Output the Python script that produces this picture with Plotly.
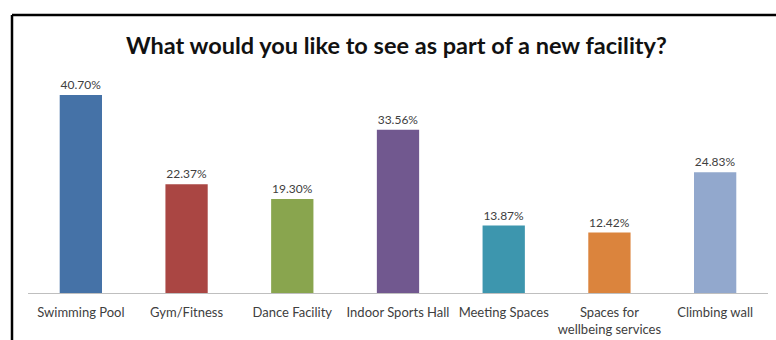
import plotly.graph_objects as go

categories = ["Swimming Pool", "Gym/Fitness", "Dance Facility", "Indoor Sports Hall",
              "Meeting Spaces", "Spaces for<br>wellbeing services", "Climbing wall"]
values = [40.70, 22.37, 19.30, 33.56, 13.87, 12.42, 24.83]
labels = ["40.70%", "22.37%", "19.30%", "33.56%", "13.87%", "12.42%", "24.83%"]
colors = ["#4572A7", "#AA4643", "#89A54E", "#71588F", "#3D96AE", "#DB843D", "#92A8CD"]

W, H = 776, 340
L, R, T, B = 28, 8, 74, 47
pw, ph = W - L - R, H - T - B

def px_x(x):
    return (x - L) / pw

def px_y(y):
    return (H - B - y) / ph

fig = go.Figure(go.Bar(
    x=categories, y=values, text=labels, textposition="outside",
    marker=dict(color=colors, line=dict(width=0)),
    textfont=dict(family="Lato, Carlito, sans-serif", size=12, color="#404040"),
    cliponaxis=False, width=0.4,
))

fig.update_layout(
    width=W, height=H, margin=dict(l=L, r=R, t=T, b=B, autoexpand=False),
    paper_bgcolor="white", plot_bgcolor="white", showlegend=False,
    font=dict(family="Lato, Carlito, sans-serif"),
    xaxis=dict(showline=True, linecolor="#BFBFBF", linewidth=1, ticks="",
               tickfont=dict(size=13, color="#404040"), ticklabelstandoff=7,
               showgrid=False, fixedrange=True, automargin=False),
    yaxis=dict(range=[0, 45], visible=False, showgrid=False, fixedrange=True),
    annotations=[dict(text="<b>What would you like to see as part of a new facility?</b>",
                      xref="paper", yref="paper", x=px_x(396), y=px_y(45),
                      xanchor="center", yanchor="middle", showarrow=False,
                      font=dict(size=23.5, color="#111111"))],
    shapes=[
        dict(type="line", xref="paper", yref="paper", x0=px_x(12), x1=px_x(780),
             y0=px_y(15), y1=px_y(15), line=dict(color="black", width=2.5)),
        dict(type="line", xref="paper", yref="paper", x0=px_x(12), x1=px_x(12),
             y0=px_y(15), y1=px_y(345), line=dict(color="black", width=2.5)),
    ],
)

fig.write_html("out.html")
